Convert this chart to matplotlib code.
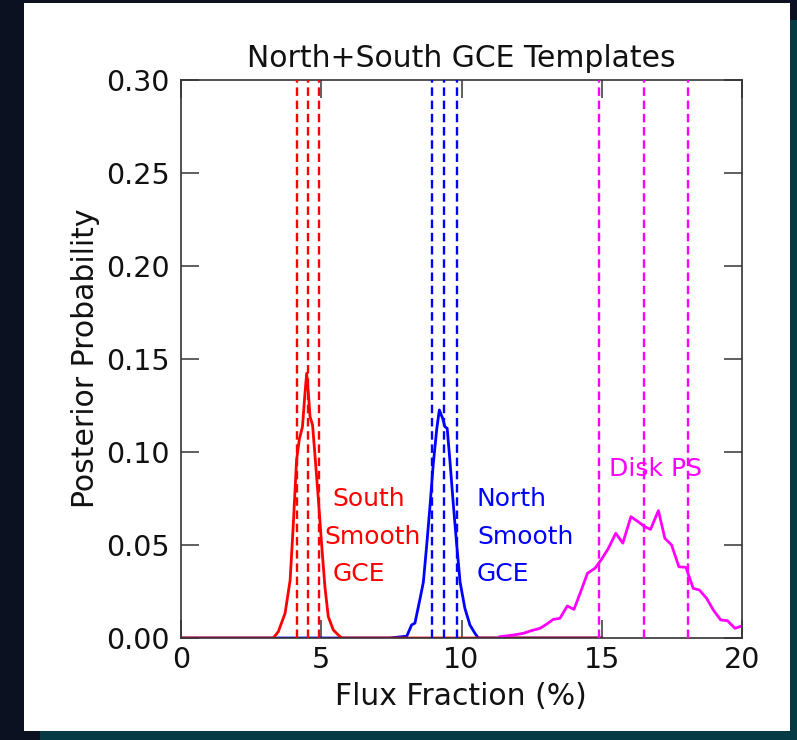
import matplotlib
matplotlib.use("Agg")
import matplotlib.pyplot as plt
from matplotlib.patches import Rectangle

# ---- data ----
south_x = [0.0, 3.29, 3.47, 3.71, 3.89, 4.00, 4.12, 4.22, 4.33, 4.42, 4.48, 4.54, 4.60,
           4.69, 4.78, 4.90, 5.02, 5.13, 5.25, 5.43, 5.61, 5.73, 15.0]
south_y = [0.0, 0.0, 0.0034, 0.0133, 0.031, 0.060, 0.0957, 0.107, 0.1136, 0.1316, 0.1423,
           0.132, 0.119, 0.1145, 0.0975, 0.074, 0.049, 0.0276, 0.0115, 0.0043, 0.0016, 0.0, 0.0]

north_x = [0.0, 7.45, 8.05, 8.22, 8.34, 8.52, 8.64, 8.76, 8.88, 8.99, 9.12, 9.21, 9.33, 9.41,
           9.49, 9.59, 9.71, 9.83, 9.95, 10.12, 10.30, 10.48, 10.60, 15.0]
north_y = [0.0, 0.0, 0.001, 0.007, 0.008, 0.021, 0.030, 0.050, 0.0715, 0.093, 0.1127, 0.1226,
           0.118, 0.1136, 0.1127, 0.0948, 0.0715, 0.050, 0.030, 0.016, 0.007, 0.0025, 0.0, 0.0]

disk_x = [11.37, 11.85, 12.2, 12.5, 12.8, 13.04, 13.27, 13.51, 13.77, 14.01, 14.25, 14.49, 14.76,
          15.0, 15.23, 15.5, 15.75, 16.04, 16.3, 16.54, 16.74, 17.02, 17.25, 17.49, 17.75,
          18.0, 18.26, 18.48, 18.74, 18.98, 19.24, 19.48, 19.75, 20.0]
disk_y = [0.0007, 0.0016, 0.0025, 0.004, 0.0052, 0.0075, 0.010, 0.0106, 0.0172, 0.0154, 0.0249,
          0.0348, 0.0375, 0.0425, 0.048, 0.0563, 0.051, 0.0652, 0.0625, 0.0598, 0.0584, 0.0685,
          0.0536, 0.050, 0.0383, 0.038, 0.0267, 0.0258, 0.0213, 0.015, 0.0097, 0.0093, 0.0052,
          0.0065]

south_quantiles = [4.15, 4.52, 4.91]
north_quantiles = [8.96, 9.39, 9.83]
disk_quantiles = [14.9, 16.52, 18.09]

xticks = [0, 5, 10, 15, 20]
yticks = [0.00, 0.05, 0.10, 0.15, 0.20, 0.25, 0.30]

# ---- figure ----
W, H = 797, 740
fig = plt.figure(figsize=(W / 100, H / 100), dpi=100)
fig.patch.set_facecolor('#0b1120')
# teal strips
fig.patches.append(Rectangle((40 / W, 0), 1 - 40 / W, 9 / H, transform=fig.transFigure,
                             facecolor='#063a45', edgecolor='none', zorder=-3))
fig.patches.append(Rectangle((790 / W, 0), 7 / W, 1 - 20 / H, transform=fig.transFigure,
                             facecolor='#063a45', edgecolor='none', zorder=-3))
# white panel
fig.patches.append(Rectangle((24 / W, 1 - 731 / H), (790 - 24) / W, (731 - 3) / H,
                             transform=fig.transFigure, facecolor='white',
                             edgecolor='none', zorder=-2))

ax = fig.add_axes([181 / W, 1 - 638 / H, (742 - 181) / W, (638 - 80) / H])
ax.set_facecolor('none')

ax.plot(north_x, north_y, color='#0000ff', lw=2.0)
ax.plot(south_x, south_y, color='#ff0000', lw=2.0)
ax.plot(disk_x, disk_y, color='#ff00ff', lw=2.0)

dash = (0, (3.6, 2.0))
for q in south_quantiles:
    ax.axvline(q, color='#ff0000', ls=dash, lw=1.7, zorder=4)
for q in north_quantiles:
    ax.axvline(q, color='#0000ff', ls=dash, lw=1.7, zorder=4)
for q in disk_quantiles:
    ax.axvline(q, color='#ff00ff', ls=dash, lw=1.7, zorder=4)

ax.set_xlim(0, 20)
ax.set_ylim(0, 0.30)
ax.set_xticks(xticks)
ax.set_yticks(yticks)
ax.set_xticklabels([str(t) for t in xticks])
ax.set_yticklabels([f"{t:.2f}" for t in yticks])

ax.tick_params(direction='in', top=True, right=True, length=13, width=1.2,
               color='#444444', labelsize=20.5, labelcolor='#111111')
ax.tick_params(axis='x', pad=6)
ax.tick_params(axis='y', pad=8)
for s in ax.spines.values():
    s.set_color('#333333')
    s.set_linewidth(1.2)

ax.set_title('North+South GCE Templates', fontsize=21.5, y=1.039, va='center',
             color='#111111', pad=0)
ax.set_xlabel('Flux Fraction (%)', fontsize=21.5, va='center', color='#111111')
ax.xaxis.set_label_coords(0.499, -0.1057)
ax.set_ylabel('Posterior Probability', fontsize=21.5, va='center', color='#111111')
ax.yaxis.set_label_coords(-0.17, 0.502)

fs = 18
ax.text(5.38, 0.075, 'South', color='#ff0000', fontsize=fs, va='center', ha='left', zorder=1)
ax.text(5.10, 0.0545, 'Smooth', color='#ff0000', fontsize=fs, va='center', ha='left', zorder=1)
ax.text(5.42, 0.0342, 'GCE', color='#ff0000', fontsize=fs, va='center', ha='left', zorder=1)
ax.text(10.55, 0.075, 'North', color='#0000ff', fontsize=fs, va='center', ha='left', zorder=1)
ax.text(10.55, 0.0545, 'Smooth', color='#0000ff', fontsize=fs, va='center', ha='left', zorder=1)
ax.text(10.55, 0.0342, 'GCE', color='#0000ff', fontsize=fs, va='center', ha='left', zorder=1)
ax.text(15.27, 0.0907, 'Disk PS', color='#ff00ff', fontsize=fs, va='center', ha='left', zorder=1)

fig.savefig('out.png', dpi=100, facecolor=fig.get_facecolor())
